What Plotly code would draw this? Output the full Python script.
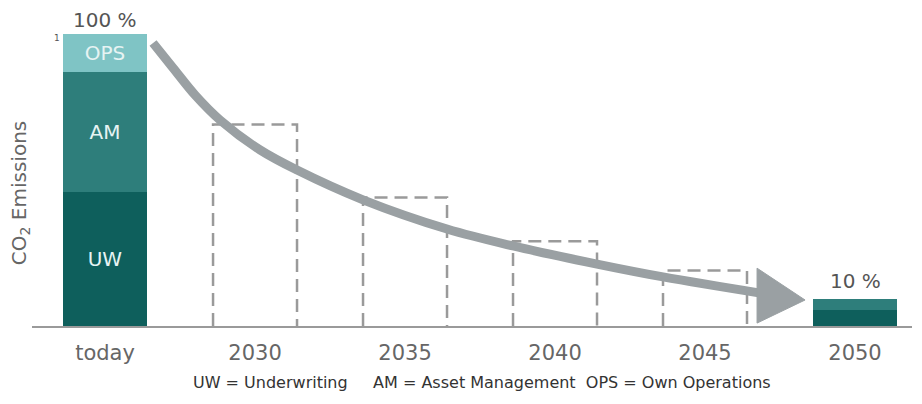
import plotly.graph_objects as go

# ---- data ----
categories = ["today", "2030", "2035", "2040", "2045", "2050"]
uw_values = [46, 0, 0, 0, 0, 5.5]
am_values = [41, 0, 0, 0, 0, 3.7]
ops_values = [13, 0, 0, 0, 0, 0]
segment_labels = ["UW", "AM", "OPS"]
target_values = [None, 69, 44, 29, 19, None]   # dashed outline bars
pct_labels = ["100 %", "10 %"]
# decorative arrow path (category index, % of today's emissions)
arrow_x = [0.32, 0.453, 0.6, 0.767, 1.033, 1.28, 1.72, 2.28, 2.72, 3.28, 3.72, 4.40]
arrow_y = [96.9, 88.4, 79.1, 70.5, 60.3, 53.4, 43.2, 33.2, 27.4, 21.2, 16.8, 11.0]
arrowhead_x = [4.347, 4.667, 4.347, 4.347]
arrowhead_y = [19.8, 8.9, 1.0, 19.8]

xs = list(range(len(categories)))
bar_w = 0.56
FONT = "DejaVu Sans, Verdana, sans-serif"

C_UW = "#0e5f5c"
C_AM = "#2e7e7b"
C_OPS = "#7fc4c5"

fig = go.Figure()

for vals, col, lab in zip([uw_values, am_values, ops_values], [C_UW, C_AM, C_OPS], segment_labels):
    # labelled segment on the "today" bar
    fig.add_trace(go.Bar(x=[xs[0]], y=[vals[0]], width=bar_w, marker_color=col, marker_line_width=0,
                         text=[lab], textposition="inside", insidetextanchor="middle",
                         textangle=0, constraintext="none",
                         textfont=dict(color="#e6f3f3", size=20, family=FONT), hoverinfo="skip"))
    # unlabelled segments on the remaining bars
    px_ = [x for x, v in zip(xs[1:], vals[1:]) if v]
    py_ = [v for v in vals[1:] if v]
    if px_:
        fig.add_trace(go.Bar(x=px_, y=py_, width=bar_w, marker_color=col, marker_line_width=0,
                             textposition="none", hoverinfo="skip"))

# dashed outline bars
for x, v in zip(xs, target_values):
    if v is None:
        continue
    fig.add_trace(go.Scatter(x=[x - bar_w / 2, x - bar_w / 2, x + bar_w / 2, x + bar_w / 2],
                             y=[0, v, v, 0], mode="lines",
                             line=dict(color="#9a9a9a", width=2.5, dash="13px,7px"),
                             hoverinfo="skip"))

# arrow
fig.add_trace(go.Scatter(x=arrow_x, y=arrow_y, mode="lines",
                         line=dict(color="#9aa0a3", width=9, shape="spline", smoothing=1.0),
                         hoverinfo="skip"))
fig.add_trace(go.Scatter(x=arrowhead_x, y=arrowhead_y, mode="lines", fill="toself",
                         fillcolor="#9aa0a3", line=dict(color="#9aa0a3", width=1),
                         hoverinfo="skip"))

totals = [u + a + o for u, a, o in zip(uw_values, am_values, ops_values)]
fig.add_annotation(x=0, y=totals[0], text=pct_labels[0], showarrow=False, yanchor="bottom",
                   yshift=0, font=dict(size=20, color="#555555", family=FONT))
fig.add_annotation(x=5, y=totals[5], text=pct_labels[1], showarrow=False, yanchor="bottom",
                   yshift=4, font=dict(size=20, color="#555555", family=FONT))
fig.add_annotation(x=-0.32, y=98.6, text="1", showarrow=False,
                   font=dict(size=9, color="#555555", family=FONT))
fig.add_annotation(xref="paper", yref="y", x=-0.0136, y=45.5, text="CO<sub>2</sub> Emissions",
                   textangle=-90, showarrow=False, xanchor="center", yanchor="middle",
                   font=dict(size=20, color="#666666", family=FONT))
fig.add_annotation(xref="paper", yref="paper", x=0.511, y=-0.178,
                   text="UW = Underwriting     AM = Asset Management  OPS = Own Operations",
                   showarrow=False, yanchor="middle",
                   font=dict(size=16, color="#333333", family=FONT))

fig.update_layout(
    width=922, height=404,
    margin=dict(l=32, r=10, t=10, b=78),
    paper_bgcolor="white", plot_bgcolor="white",
    barmode="stack", showlegend=False,
    xaxis=dict(range=[-0.487, 5.38], tickvals=xs, ticktext=categories,
               showgrid=False, zeroline=False, showline=True, linecolor="#9a9a9a", linewidth=1.5,
               ticks="outside", ticklen=7, tickcolor="rgba(0,0,0,0)",
               tickfont=dict(size=21, color="#666666", family=FONT)),
    yaxis=dict(range=[0, 108.2], showgrid=False, zeroline=False, showticklabels=False),
)

fig.write_html("out.html", config={"displayModeBar": False},
               post_script="document.body.style.margin='0px';")
